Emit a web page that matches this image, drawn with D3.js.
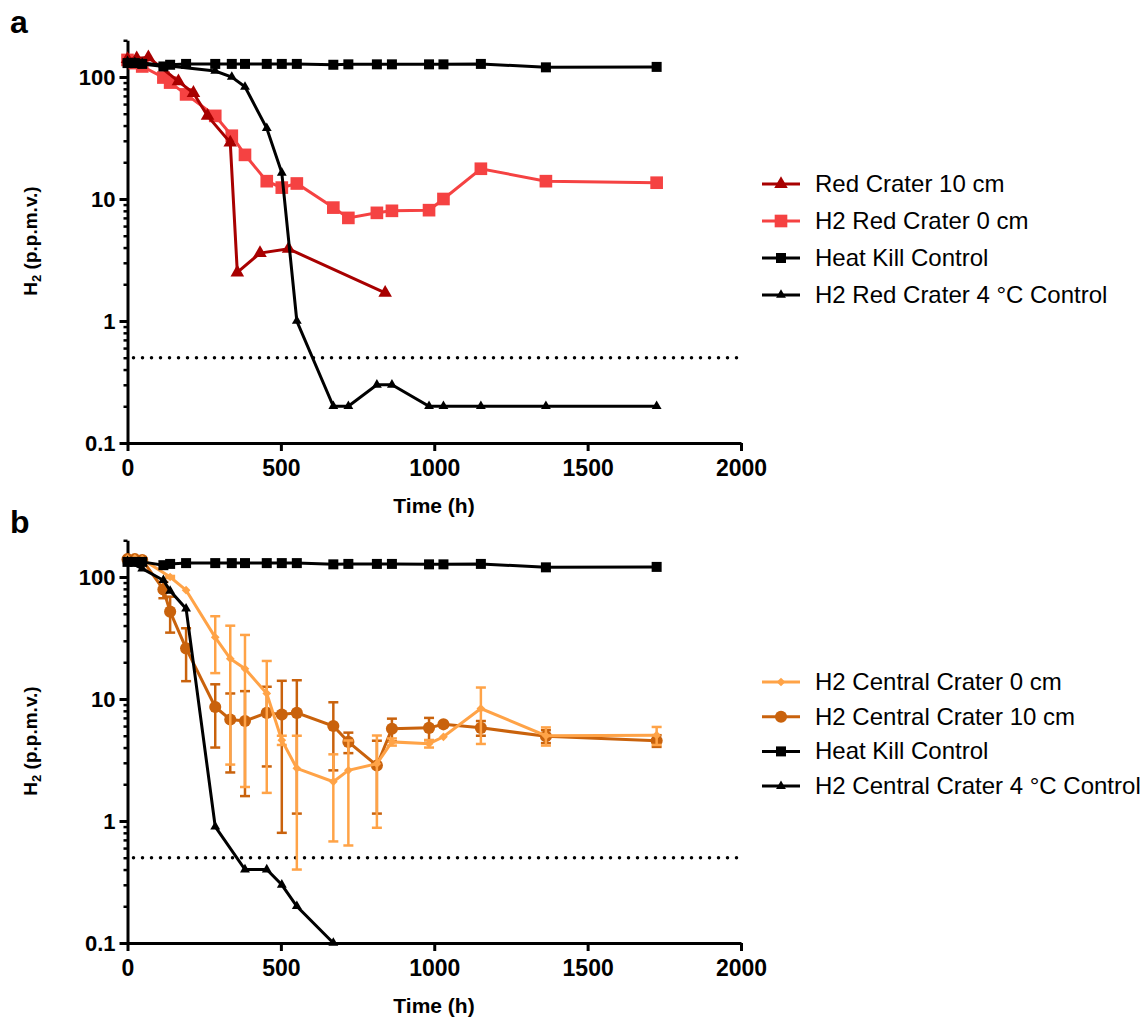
<!DOCTYPE html>
<html>
<head>
<meta charset="utf-8">
<script src="https://cdn.jsdelivr.net/npm/d3@7"></script>
<style>
body { margin: 0; background: #fff; }
text { font-family: "Liberation Sans", Arial, sans-serif; }
</style>
</head>
<body>
<div id="chart"></div>
<script>
// ---- data (time in h, H2 in p.p.m.v.) ----
var heatKillTime = [0, 24, 48, 117, 139, 191, 286, 340, 383, 454, 503, 552, 671, 720, 813, 862, 983, 1030, 1152, 1364, 1725];
var heatKillA    = [130, 130, 128, 122, 126, 128, 128, 128, 128, 128, 128, 128, 126, 127, 127, 127, 127, 127, 128, 120, 121];
var heatKillB    = [133, 133, 133, 125, 128, 130, 130, 130, 130, 130, 130, 130, 127, 128, 128, 128, 127, 127, 128, 120, 121];

var red0Time = [0, 24, 48, 117, 139, 191, 286, 340, 383, 454, 503, 552, 671, 720, 813, 862, 983, 1030, 1152, 1364, 1725];
var red0Val  = [138, 130, 122, 99, 90, 72, 48, 33, 23, 14, 12.4, 13.4, 8.5, 7.0, 7.7, 8.0, 8.1, 10, 17.7, 14, 13.6];

var red10Time = [0, 30, 68, 166, 215, 261, 335, 358, 432, 525, 840];
var red10Val  = [140, 142, 145, 92, 74, 48, 29, 2.5, 3.6, 3.9, 1.7];

var red4Time = [0, 24, 48, 286, 340, 383, 454, 503, 552, 671, 720, 813, 862, 983, 1030, 1152, 1364, 1725];
var red4Val  = [135, 132, 130, 112, 100, 83, 38, 16.4, 1.0, 0.2, 0.2, 0.3, 0.3, 0.2, 0.2, 0.2, 0.2, 0.2];

var central0Time = [0, 24, 48, 139, 191, 286, 335, 383, 454, 503, 552, 671, 720, 813, 862, 983, 1030, 1152, 1364, 1725];
var central0Val  = [142, 142, 140, 100, 78, 32, 21.4, 17.7, 11.1, 4.6, 2.7, 2.1, 2.6, 2.95, 4.45, 4.3, 4.9, 8.35, 5.0, 5.05];
var central0Sd   = [0, 0, 0, 2, 0, 15.7, 18.5, 15.8, 9.4, 0.4, 2.3, 1.42, 1.97, 2.07, 0.3, 0.3, 0, 4.07, 0.85, 0.85];

var central10Time = [0, 24, 48, 117, 139, 191, 286, 335, 383, 454, 503, 552, 671, 720, 813, 862, 983, 1030, 1152, 1364, 1725];
var central10Val  = [140, 140, 138, 79, 52, 26, 8.6, 6.8, 6.6, 7.7, 7.45, 7.7, 6.0, 4.45, 2.85, 5.7, 5.8, 6.2, 5.8, 4.95, 4.55];
var central10Sd   = [0, 0, 0, 12, 17, 12, 4.6, 4.3, 5.0, 4.9, 6.65, 6.55, 3.4, 0.85, 1.7, 1.2, 1.2, 0, 0.8, 0.6, 0.5];

var central4Time = [0, 48, 117, 139, 191, 286, 383, 454, 503, 552, 671];
var central4Val  = [135, 117, 94, 77, 55, 0.9, 0.4, 0.4, 0.3, 0.2, 0.1];

var xTicks = [0, 500, 1000, 1500, 2000];
var yTicks = [0.1, 1, 10, 100];
var yMinor = [0.2, 0.3, 0.4, 0.5, 0.6, 0.7, 0.8, 0.9, 2, 3, 4, 5, 6, 7, 8, 9, 20, 30, 40, 50, 60, 70, 80, 90, 200];
var detectionLimit = 0.5;

// ---- colours / markers ----
var darkRed = "#a80000", red = "#f54242", lightOrange = "#ffa347", darkOrange = "#c9620c";

var diamond = {
  draw: function(ctx, size) {
    var r = Math.sqrt(size) / 2 * 1.3;
    ctx.moveTo(0, -r); ctx.lineTo(r, 0); ctx.lineTo(0, r); ctx.lineTo(-r, 0); ctx.closePath();
  }
};

function zip(t, v, sd) {
  return t.map(function(d, i) { return {t: d, v: v[i], sd: sd ? sd[i] : 0}; });
}

var panels = [
  {
    letter: "a", axisY: 443, legendY: 184, legendStep: 37,
    series: [
      {name: "H2 Red Crater 0 cm", data: zip(red0Time, red0Val), color: red, sym: d3.symbolSquare, size: 160, legend: 1},
      {name: "Red Crater 10 cm", data: zip(red10Time, red10Val), color: darkRed, sym: d3.symbolTriangle, size: 80, legend: 0},
      {name: "Heat Kill Control", data: zip(heatKillTime, heatKillA), color: "#000", sym: d3.symbolSquare, size: 100, legend: 2},
      {name: "H2 Red Crater 4 °C Control", data: zip(red4Time, red4Val), color: "#000", sym: d3.symbolTriangle, size: 42, legend: 3}
    ]
  },
  {
    letter: "b", axisY: 943, legendY: 682, legendStep: 34.7,
    series: [
      {name: "H2 Central Crater 10 cm", data: zip(central10Time, central10Val, central10Sd), color: darkOrange, sym: d3.symbolCircle, size: 115, legend: 1},
      {name: "H2 Central Crater 0 cm", data: zip(central0Time, central0Val, central0Sd), color: lightOrange, sym: diamond, size: 45, legend: 0},
      {name: "Heat Kill Control", data: zip(heatKillTime, heatKillB), color: "#000", sym: d3.symbolSquare, size: 100, legend: 2},
      {name: "H2 Central Crater 4 °C Control", data: zip(central4Time, central4Val), color: "#000", sym: d3.symbolTriangle, size: 42, legend: 3}
    ]
  }
];

var svg = d3.select("#chart").append("svg")
  .attr("width", 1146)
  .attr("height", 1020);

var x = d3.scaleLinear().domain([0, 2000]).range([127.5, 741]);

panels.forEach(function(p) {
  var y = d3.scaleLog().domain([0.1, 200])
    .range([p.axisY, p.axisY - 122 * Math.log10(2000)]);
  var g = svg.append("g");

  // panel letter
  g.append("text")
    .attr("x", 10).attr("y", p.axisY - 410)
    .attr("font-size", "32px").attr("font-weight", "bold")
    .text(p.letter);

  // minor y ticks
  g.append("g")
    .attr("transform", "translate(127.5,0)")
    .call(d3.axisLeft(y).tickValues(yMinor).tickSize(4).tickSizeOuter(0).tickFormat(""))
    .call(function(a) { a.select(".domain").remove(); a.selectAll("line").attr("stroke-width", 2.5); });

  // major y axis
  g.append("g")
    .attr("transform", "translate(127.5,0)")
    .call(d3.axisLeft(y).tickValues(yTicks).tickSize(8).tickSizeOuter(0).tickPadding(4).tickFormat(d3.format("~g")))
    .call(function(a) {
      a.select(".domain").attr("stroke-width", 3);
      a.selectAll("line").attr("stroke-width", 3);
      a.selectAll("text").attr("font-size", "22px").attr("font-weight", "bold")
        .attr("font-family", "Liberation Sans, Arial, sans-serif").attr("fill", "#000");
    });

  // x axis
  g.append("g")
    .attr("transform", "translate(0," + p.axisY + ")")
    .call(d3.axisBottom(x).tickValues(xTicks).tickSize(8).tickSizeOuter(0).tickPadding(9).tickFormat(d3.format("d")))
    .call(function(a) {
      a.select(".domain").attr("stroke-width", 3);
      a.selectAll("line").attr("stroke-width", 3);
      a.selectAll("text").attr("font-size", "23px").attr("font-weight", "bold")
        .attr("font-family", "Liberation Sans, Arial, sans-serif").attr("fill", "#000");
    });

  // axis titles
  g.append("text")
    .attr("x", 434).attr("y", p.axisY + 70)
    .attr("text-anchor", "middle").attr("font-size", "21px").attr("font-weight", "bold")
    .text("Time (h)");

  var yl = g.append("text")
    .attr("transform", "translate(37," + (p.axisY - 202) + ") rotate(-90)")
    .attr("text-anchor", "middle").attr("font-size", "19px").attr("font-weight", "bold");
  yl.append("tspan").text("H");
  yl.append("tspan").text("2").attr("font-size", "13px").attr("dy", 4);
  yl.append("tspan").text(" (p.p.m.v.)").attr("dy", -4);

  // detection limit
  g.append("line")
    .attr("x1", x(0) + 6).attr("x2", x(2000))
    .attr("y1", y(detectionLimit)).attr("y2", y(detectionLimit))
    .attr("stroke", "#000").attr("stroke-width", 3.5)
    .attr("stroke-linecap", "round").attr("stroke-dasharray", "0 9");

  var line = d3.line().x(function(d) { return x(d.t); }).y(function(d) { return y(d.v); });

  p.series.forEach(function(s) {
    var sg = g.append("g");

    // error bars (mean +/- SD)
    var eb = s.data.filter(function(d) { return d.sd > 0; });
    eb.forEach(function(d) {
      var hi = y(d.v + d.sd);
      var lo = y(Math.max(d.v - d.sd, 0.1));
      sg.append("line").attr("x1", x(d.t)).attr("x2", x(d.t)).attr("y1", hi).attr("y2", lo)
        .attr("stroke", s.color).attr("stroke-width", 2.5);
      [hi, lo].forEach(function(yy) {
        sg.append("line").attr("x1", x(d.t) - 5).attr("x2", x(d.t) + 5).attr("y1", yy).attr("y2", yy)
          .attr("stroke", s.color).attr("stroke-width", 2.5);
      });
    });

    sg.append("path")
      .datum(s.data)
      .attr("d", line)
      .attr("fill", "none")
      .attr("stroke", s.color)
      .attr("stroke-width", 3);

    sg.selectAll(".pt")
      .data(s.data)
      .enter()
      .append("path")
        .attr("transform", function(d) { return "translate(" + x(d.t) + "," + y(d.v) + ")"; })
        .attr("d", d3.symbol().type(s.sym).size(s.size))
        .attr("fill", s.color);

    // legend entry
    var ly = p.legendY + s.legend * p.legendStep;
    g.append("line").attr("x1", 762).attr("x2", 800).attr("y1", ly).attr("y2", ly)
      .attr("stroke", s.color).attr("stroke-width", 3);
    g.append("path")
      .attr("transform", "translate(781," + ly + ")")
      .attr("d", d3.symbol().type(s.sym).size(s.size))
      .attr("fill", s.color);
    g.append("text")
      .attr("x", 815).attr("y", ly + 8)
      .attr("font-size", "24px")
      .text(s.name);
  });
});
</script>
</body>
</html>
